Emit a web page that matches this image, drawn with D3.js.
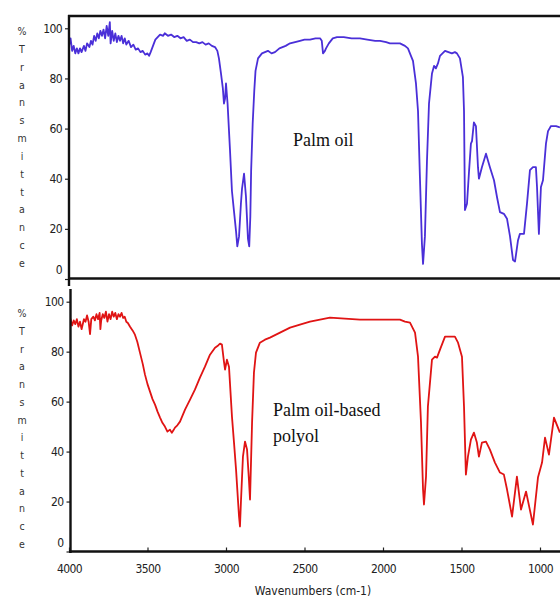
<!DOCTYPE html>
<html>
<head>
<meta charset="utf-8">
<script src="https://cdn.jsdelivr.net/npm/d3@7/dist/d3.min.js"></script>
<style>
  html, body { margin: 0; padding: 0; background: #fff; }
  svg { display: block; }
</style>
</head>
<body>
<div id="chart"></div>
<script>
// ---------------- DATA ----------------
const xTicks = [4000, 3500, 3000, 2500, 2000, 1500, 1000];
const yTicks = [0, 20, 40, 60, 80, 100];
const yAxisLetters = ["%", "T", "r", "a", "n", "s", "m", "i", "t", "t", "a", "n", "c", "e"];
const xAxisTitle = "Wavenumbers (cm-1)";
const topLabel = ["Palm oil"];
const bottomLabel = ["Palm oil-based", "polyol"];

// Palm oil spectrum: [wavenumber, %T]
const palmOil = [
  [4000,93],[3990,96],[3980,91],[3970,93],[3960,90],[3950,92],[3940,90],[3930,92],[3920,90.5],
  [3905,93],[3895,91],[3885,94],[3870,92.5],[3860,95],[3850,93.5],[3840,97],[3830,95],[3820,98],
  [3810,96],[3800,99],[3790,97],[3780,99.5],[3770,96],[3760,101],[3750,97],[3740,102.5],[3735,94],
  [3725,99],[3715,95],[3705,98],[3695,94.5],[3685,97],[3675,95],[3665,97],[3655,94],[3645,96],
  [3635,93.5],[3620,95],[3605,92.5],[3590,93.5],[3575,91.5],[3560,92],[3545,90.5],[3530,91],
  [3515,89.5],[3500,90],[3490,89],[3480,90.5],[3465,93],[3450,95.5],[3435,96.5],[3420,97.5],
  [3400,97],[3390,98],[3370,97],[3350,97.5],[3330,96.5],[3310,97],[3290,96],[3270,96.5],
  [3250,95],[3230,95.5],[3210,94.5],[3190,94.5],[3170,94],[3150,94.5],[3130,93.5],[3110,94],
  [3090,93],[3070,92.5],[3055,91],[3045,88],[3032,82],[3020,76],[3013,70],[3006,72],[3000,78],
  [2990,70],[2975,52],[2962,35],[2949,27],[2936,19],[2928,13],[2917,17],[2905,30],[2898,36],
  [2885,42],[2873,33],[2860,16],[2852,13],[2845,25],[2840,43],[2830,62],[2820,75],[2812,83],
  [2796,88],[2771,90],[2752,90.5],[2733,91],[2710,90],[2688,90.5],[2660,92],[2620,93],[2592,94],
  [2560,94.5],[2529,95],[2500,95.5],[2465,95.5],[2430,96],[2401,96],[2390,95],[2382,90],[2370,91],
  [2363,92],[2345,94],[2320,96],[2293,96.5],[2250,96.5],[2200,96],[2147,96],[2100,95.5],[2050,95],
  [2019,95],[1980,94.5],[1956,94],[1892,94],[1860,93],[1841,92],[1822,89],[1809,87],[1790,78],
  [1777,67],[1765,41],[1752,14],[1745,6],[1733,17],[1720,47],[1707,70],[1688,82],[1675,85],
  [1663,84],[1650,86],[1637,89],[1605,91],[1561,90],[1542,90.5],[1529,90],[1510,88],[1491,80.5],
  [1484,67],[1478,27.5],[1465,30],[1452,43],[1440,54],[1433,55],[1421,62.5],[1408,61],[1395,44.6],
  [1389,40],[1370,44.6],[1344,50],[1319,44.6],[1293,39.4],[1274,32.7],[1255,26.7],[1230,26],
  [1210,24],[1191,17],[1172,7.6],[1159,7],[1140,15.5],[1128,18],[1102,18],[1083,30],[1064,43.4],
  [1045,44.6],[1026,44.6],[1019,36.7],[1007,18],[994,36.7],[981,39.4],[962,54],[949,59],
  [930,61],[898,61],[873,60.5]
];

// Palm oil-based polyol spectrum: [wavenumber, %T]
const polyol = [
  [4000,91.5],[3990,93],[3980,90.5],[3970,92.5],[3960,91],[3950,93],[3940,90],[3930,92],[3920,89],
  [3905,93],[3895,92],[3885,94.5],[3875,92],[3866,87],[3858,93],[3845,94],[3835,92.5],[3825,95],
  [3815,93],[3805,95.5],[3800,89],[3795,92.5],[3785,95],[3775,93.5],[3765,96],[3755,92],[3745,95],
  [3735,93],[3725,96],[3715,94],[3705,95.5],[3695,93],[3685,95],[3675,94],[3665,95.5],[3655,93.5],
  [3645,94],[3635,92],[3625,91.5],[3611,90],[3595,88.5],[3580,86.8],[3565,84],[3548,79.6],
  [3530,75],[3516,70.8],[3500,67],[3484,64],[3468,61],[3452,58.8],[3436,56],[3420,53.6],
  [3405,51.5],[3389,50],[3373,48],[3357,48.8],[3345,47.5],[3335,48.5],[3325,49.6],[3310,50.5],
  [3293,52],[3261,56.8],[3229,60.8],[3198,64.8],[3166,69.6],[3134,74],[3102,78.8],[3070,81.6],
  [3050,82.5],[3038,83.2],[3026,82.8],[3013,76],[3006,72.8],[2994,76.8],[2981,74],[2962,54],
  [2949,43.6],[2936,32.8],[2924,20.8],[2917,14],[2911,10],[2905,19.6],[2892,38],[2879,44],
  [2866,40.8],[2854,28.8],[2847,20.8],[2834,51.6],[2822,71.6],[2809,79.6],[2784,83.6],
  [2752,84.8],[2720,85.6],[2656,87.6],[2592,89.6],[2529,90.8],[2465,92],[2338,93.6],[2147,92.8],
  [1956,92.8],[1892,92.8],[1860,92],[1828,91.6],[1796,87.6],[1777,78],[1758,51.6],[1745,24.8],
  [1739,18.8],[1726,30],[1714,58],[1688,76.8],[1669,78],[1656,77.6],[1637,80.8],[1605,86],
  [1573,86],[1542,86],[1522,83.6],[1497,78],[1484,58],[1472,30.8],[1459,38],[1440,44.8],
  [1421,47.6],[1402,43.6],[1389,38],[1370,43.6],[1344,44],[1319,40.8],[1287,35.6],[1255,31.6],
  [1230,30.8],[1210,24.8],[1178,14],[1147,30],[1121,16.8],[1089,24],[1045,10.8],[1013,29.6],
  [987,35.6],[968,45.6],[943,38.8],[911,53.6],[873,47.6]
];

// ---------------- DRAWING ----------------
const W = 560, H = 599;
const svg = d3.select("#chart").append("svg").attr("width", W).attr("height", H);

const x = d3.scaleLinear().domain([4000, 1000]).range([69, 540]);
const yTop = d3.scaleLinear().domain([0, 100]).range([279, 28.3]);
const yBot = d3.scaleLinear().domain([0, 100]).range([551.5, 301.7]);

const tickFont = "'Liberation Sans Narrow', 'DejaVu Sans Condensed', 'Liberation Sans', Arial, sans-serif";

svg.append("defs").append("clipPath").attr("id", "clipTop")
  .append("rect").attr("x", 69).attr("y", 17).attr("width", W - 69).attr("height", 261);
svg.select("defs").append("clipPath").attr("id", "clipBot")
  .append("rect").attr("x", 70).attr("y", 288).attr("width", W - 70).attr("height", 263);

function drawPanel(yScale, data, color, clipId, axisX, opts) {
  const line = d3.line().x(d => x(d[0])).y(d => yScale(d[1]));
  svg.append("path").datum(data)
    .attr("clip-path", `url(#${clipId})`)
    .attr("d", line)
    .attr("fill", "none")
    .attr("stroke", color)
    .attr("stroke-width", 1.8)
    .attr("stroke-linejoin", "round");

  const yAxis = d3.axisLeft(yScale).tickValues(yTicks).tickSize(4).tickPadding(3).tickFormat(d3.format("d"));
  const g = svg.append("g").attr("transform", `translate(${axisX},0)`).call(yAxis);
  g.select(".domain").remove();
  g.selectAll(".tick line").attr("stroke", "#222").attr("stroke-width", 1.2);
  g.selectAll(".tick text")
    .attr("font-family", tickFont).attr("font-size", 12).attr("fill", "#222")
    .attr("letter-spacing", "-0.6px")
    .attr("transform", d => d === 0 ? "translate(0,-9)" : null);

  svg.append("line").attr("x1", axisX).attr("x2", axisX)
    .attr("y1", opts.axisTop).attr("y2", opts.axisBottom)
    .attr("stroke", "#111").attr("stroke-width", 2.4);

  const letterY = d3.scaleLinear().domain([0, yAxisLetters.length - 1]).range(opts.letterRange);
  svg.append("g").selectAll("text").data(yAxisLetters).join("text")
    .attr("x", 22).attr("y", (d, i) => letterY(i))
    .attr("text-anchor", "middle").attr("dominant-baseline", "central")
    .attr("font-family", tickFont).attr("font-size", 10.5).attr("fill", "#333")
    .text(d => d);
}

// top panel
drawPanel(yTop, palmOil, "#4a2fd8", "clipTop", 69,
  { axisTop: 15, axisBottom: 286, letterRange: [31, 263] });
svg.append("line").attr("x1", 68).attr("x2", W).attr("y1", 16).attr("y2", 16)
  .attr("stroke", "#111").attr("stroke-width", 2.6);
svg.append("line").attr("x1", 68).attr("x2", W).attr("y1", 278.5).attr("y2", 278.5)
  .attr("stroke", "#111").attr("stroke-width", 2.6);

// bottom panel
drawPanel(yBot, polyol, "#e01414", "clipBot", 70.5,
  { axisTop: 289, axisBottom: 553, letterRange: [313, 544] });

const xAxis = d3.axisBottom(x).tickValues(xTicks).tickSizeInner(-4).tickSizeOuter(0).tickPadding(13)
  .tickFormat(d3.format("d"));
const gx = svg.append("g").attr("transform", "translate(0,551.5)").call(xAxis);
gx.select(".domain").remove();
gx.selectAll(".tick line").attr("stroke", "#222").attr("stroke-width", 1.2);
gx.selectAll(".tick text")
  .attr("font-family", tickFont).attr("font-size", 12).attr("fill", "#222")
  .attr("letter-spacing", "-0.6px");
svg.append("line").attr("x1", 69).attr("x2", W).attr("y1", 551.5).attr("y2", 551.5)
  .attr("stroke", "#111").attr("stroke-width", 2.6);

svg.append("text").attr("x", 313).attr("y", 595)
  .attr("text-anchor", "middle")
  .attr("font-family", tickFont).attr("font-size", 12).attr("fill", "#222")
  .text(xAxisTitle);

// annotations
svg.append("g").selectAll("text").data(topLabel).join("text")
  .attr("x", 293).attr("y", 146)
  .attr("font-family", "'Liberation Serif', 'Times New Roman', serif").attr("font-size", 18).attr("fill", "#111")
  .text(d => d);
svg.append("g").selectAll("text").data(bottomLabel).join("text")
  .attr("x", 273).attr("y", (d, i) => 416 + i * 26)
  .attr("font-family", "'Liberation Serif', 'Times New Roman', serif").attr("font-size", 18).attr("fill", "#111")
  .text(d => d);
</script>
</body>
</html>
